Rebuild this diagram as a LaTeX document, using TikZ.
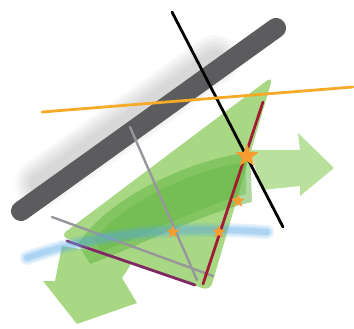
\documentclass[tikz,border=0pt]{standalone}
\usetikzlibrary{shapes.geometric}
\definecolor{leafgreen}{RGB}{168,216,132}
\definecolor{deepgreen}{RGB}{96,180,64}
\definecolor{barsgray}{RGB}{92,92,94}
\definecolor{thingray}{RGB}{150,150,156}
\definecolor{sunorange}{RGB}{246,170,40}
\definecolor{wine}{RGB}{160,28,52}
\definecolor{plum}{RGB}{128,40,100}
\definecolor{skyblue}{RGB}{88,168,228}
\definecolor{starorange}{RGB}{246,156,48}

\begin{document}
\begin{tikzpicture}[x=1pt, y=-1pt,
    ray/.style={line width=2.8pt, line cap=round},
    spark/.style={star, star points=5, star point ratio=2.3, fill=starorange, inner sep=0pt, minimum size=#1},
    spark/.default=14pt]
    \useasboundingbox (0,0) rectangle (354,329);
    % shadow of the bar
    \foreach \w in {50,44,...,20}
        \draw[line width=\w pt, line cap=round, gray, opacity=0.06] (40,184) -- (215,60);
    % green triangle with arrows
    \fill[leafgreen, rounded corners=8pt] (60,236) -- (273,76) -- (210,291) -- cycle;
    \fill[leafgreen!80!white] (250,150) -- (300,150) -- (298,133) -- (334,168) -- (300,196) -- (300,186) -- (262,190) -- cycle;
    \fill[leafgreen] (62,246) -- (135,258) -- (122,278) -- (137,303) -- (77,324) -- (43,281) -- (55,281) -- cycle;
    \fill[deepgreen, opacity=0.5] (78,244) .. controls (110,196) and (190,160) .. (250,152) -- (252,202) .. controls (200,214) and (130,250) .. (90,264) -- cycle;
    \fill[deepgreen, opacity=0.4] (95,238) .. controls (125,203) and (190,170) .. (246,162) -- (246,194) .. controls (200,206) and (140,238) .. (100,252) -- cycle;
    % bar
    \draw[barsgray, line width=20pt, line cap=round] (21,211) -- (276,28);
    % thin lines
    \draw[ray, thingray, line width=2.4pt] (130,127) -- (197,280);
    \draw[ray, thingray, line width=2.4pt] (52,217) -- (213,276);
    \draw[ray, plum] (67,241) -- (195,285);
    \foreach \w/\o in {14/0.15,10/0.2,6/0.25}
        \draw[line width=\w pt, line cap=round, skyblue, opacity=\o] (27,258) .. controls (100,232) and (180,226) .. (267,232);
    \draw[ray, wine] (263,102) -- (203,284);
    \draw[ray, black] (172,12) -- (283,227);
    \draw[ray, sunorange] (42,112) -- (353,87);
    % stars
    \node[spark=24pt] (bigstar) at (247,156) {};
    \node[spark] (redstar) at (238,201) {};
    \node[spark] (graystar) at (173,232) {};
    \node[spark] (bluestar) at (219,232) {};
\end{tikzpicture}
\end{document}
